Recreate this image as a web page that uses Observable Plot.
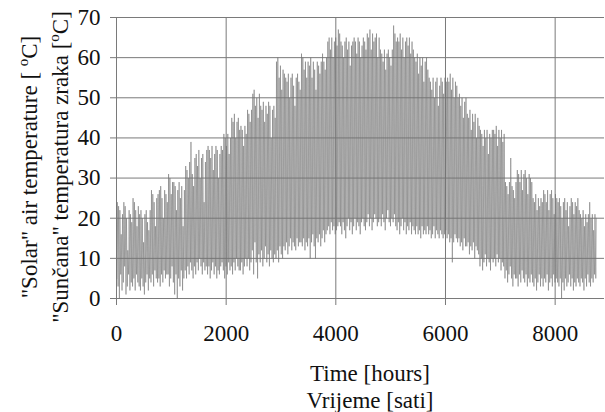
<!DOCTYPE html>
<html>
<head>
<meta charset="utf-8">
<script src="https://cdn.jsdelivr.net/npm/d3@7"></script>
<script src="https://cdn.jsdelivr.net/npm/@observablehq/plot@0.6"></script>
<style>
  html, body { margin: 0; padding: 0; background: #fff; }
  #chart svg { display: block; }
</style>
</head>
<body>
<div id="chart"></div>
<script>
// Daily maximum "solar" air temperature (°C), day 0..364
const dayMax = [
  24,23,22,16,21,24,23,20,12,22,21,19,
  25,24,22,18,23,21,
  22,20,14,21,22,19,17,22,
  27,26,24,18,25,26,
  27,28,25,20,27,26,24,
  31,30,26,29,
  29,28,22,27,29,25,28,18,27,
  33,32,30,34,39,31,28,
  35,36,33,37,30,35,36,24,34,37,
  38,37,35,38,32,36,38,37,30,36,38,37,
  41,40,38,41,36,40,
  45,44,46,40,44,45,42,
  43,42,38,43,41,
  47,46,44,47,
  51,52,48,50,45,51,
  48,47,49,44,48,46,49,48,40,47,48,45,
  59,60,55,58,52,57,
  56,55,54,56,50,55,56,53,48,55,56,54,52,
  61,60,57,59,55,
  59,58,60,55,59,57,52,59,58,56,59,
  61,59,57,60,
  64,65,62,65,60,64,65,63,
  67,66,
  64,63,60,64,65,62,64,58,63,64,65,64,61,65,64,60,63,65,64,62,
  66,65,67,62,66,64,65,66,60,65,
  62,61,59,62,57,61,62,60,58,62,
  68,66,64,
  65,64,66,62,65,60,64,65,63,65,61,64,62,
  60,59,61,56,60,58,60,54,59,60,57,
  55,54,52,55,50,54,55,48,53,55,54,51,55,54,
  55,54,56,52,55,50,54,53,
  50,51,48,50,45,49,50,
  46,45,47,42,46,44,46,40,45,43,
  42,41,38,42,40,42,36,41,40,42,
  42,41,43,38,42,40,42,39,41,
  29,28,26,29,35,28,27,25,29,
  32,31,29,32,27,31,32,30,26,31,30,29,
  25,24,26,22,25,23,25,24,
  27,26,24,27,22,26,27,25,21,26,25,
  24,25,23,20,24,25,22,24,18,23,25,24,21,24,23,25,22,
  21,20,22,18,21,19,21,24,20,21,17,21,20
];
// Daily minimum "solar" air temperature (°C), day 0..364
const dayMin = [
  5,3,0,6,2,4,8,1,3,6,2,4,
  3,5,2,6,4,3,
  2,5,3,1,4,6,2,5,
  4,6,3,7,5,4,
  5,3,6,4,7,5,6,
  6,3,5,8,
  4,1,6,0,5,3,7,2,5,
  7,5,8,6,9,7,5,
  8,6,9,7,10,8,6,9,7,8,
  6,8,5,7,9,6,8,5,7,6,8,9,
  7,5,8,6,9,7,
  8,6,9,7,10,8,7,
  7,9,6,8,10,
  8,10,7,9,
  12,6,14,9,5,11,
  9,12,8,10,13,9,11,8,12,10,9,11,
  10,12,9,13,11,10,
  13,12,14,11,13,15,12,14,13,12,15,13,14,
  14,13,15,12,14,
  13,15,10,14,16,13,10,15,14,16,13,
  15,17,14,16,
  17,18,16,19,17,18,16,17,
  18,19,
  18,16,19,17,15,18,20,17,19,16,18,20,17,19,18,16,19,20,18,17,
  19,21,18,20,17,19,21,20,18,19,
  20,18,21,19,17,20,22,19,18,20,
  19,21,18,
  17,19,16,18,20,17,19,16,18,17,19,16,18,
  17,16,18,16,17,15,18,16,17,16,18,
  16,17,15,16,18,15,17,16,15,17,16,15,16,17,
  15,16,14,15,9,14,16,15,
  14,15,13,14,12,15,13,
  13,14,11,13,12,14,10,13,12,11,
  8,10,7,9,11,8,10,9,7,10,
  9,10,8,11,9,10,7,9,8,
  5,7,4,6,8,5,3,6,5,
  5,3,6,4,7,5,4,6,3,5,4,6,
  4,3,5,2,4,6,3,5,
  3,5,4,6,2,4,5,3,6,4,5,
  4,3,5,0,4,2,5,3,4,6,3,5,2,4,3,5,4,
  3,5,4,2,5,3,6,4,3,5,4,6,5
];
const xTicks = [0, 2000, 4000, 6000, 8000];
const yTicks = [0, 10, 20, 30, 40, 50, 60, 70];
const xTitle = ["Time [hours]", "Vrijeme [sati]"];
const yTitle1 = ["\"Solar\" air temperature [ ", "o", "C]"];
const yTitle2 = ["\"Sunčana\" temperatura zraka [", "o", "C]"];

// hourly-like zigzag: daily minimum in the early morning, maximum in the afternoon
const n = Math.min(dayMax.length, dayMin.length);
const series = [];
for (let d = 0; d < n; d++) {
  series.push({h: d * 24 + 5, v: dayMin[d]});
  series.push({h: d * 24 + 14, v: dayMax[d]});
}

const SERIF = "'Liberation Serif', 'Times New Roman', Tinos, 'DejaVu Serif', serif";
const W = 605, H = 412;
const chart = Plot.plot({
  width: W,
  height: H,
  marginLeft: 116,
  marginRight: 1,
  marginTop: 17,
  marginBottom: 114,
  style: {fontSize: "23px", color: "#111", background: "#fff", fontFamily: SERIF},
  x: {domain: [0, 8900], ticks: xTicks},
  y: {domain: [0, 70], ticks: yTicks},
  marks: [
    Plot.gridY(yTicks, {stroke: "#7a7a7a", strokeOpacity: 1, strokeWidth: 1}),
    Plot.gridX(xTicks, {stroke: "#7a7a7a", strokeOpacity: 1, strokeWidth: 1}),
    Plot.line(series, {x: "h", y: "v", stroke: "#737373", strokeWidth: 0.55}),
    Plot.axisY(yTicks, {tickSize: 6, tickPadding: 10, label: null, stroke: "#7a7a7a", fill: "#111", tickFormat: d => String(d), fontFamily: SERIF}),
    Plot.axisX(xTicks, {tickSize: 7, tickPadding: 19, label: null, stroke: "#7a7a7a", fill: "#111", tickFormat: d => String(d), fontFamily: SERIF})
  ]
});
document.getElementById("chart").appendChild(chart);

const svg = d3.select(chart);
const tg = svg.append("g").attr("fill", "#111").attr("font-size", 23);
tg.append("text").attr("x", 370).attr("y", 381).attr("text-anchor", "middle").text(xTitle[0]);
tg.append("text").attr("x", 370).attr("y", 408).attr("text-anchor", "middle").text(xTitle[1]);
function vTitle(x, parts) {
  const t = tg.append("text")
    .attr("transform", `translate(${x},167) rotate(-90)`)
    .attr("text-anchor", "middle");
  t.append("tspan").text(parts[0]);
  t.append("tspan").attr("font-size", 15).attr("dy", -9).text(parts[1]);
  t.append("tspan").attr("dy", 9).text(parts[2]);
}
vTitle(37, yTitle1);
vTitle(68, yTitle2);
svg.selectAll("text").style("font-family", SERIF).attr("font-family", SERIF);
</script>
</body>
</html>
